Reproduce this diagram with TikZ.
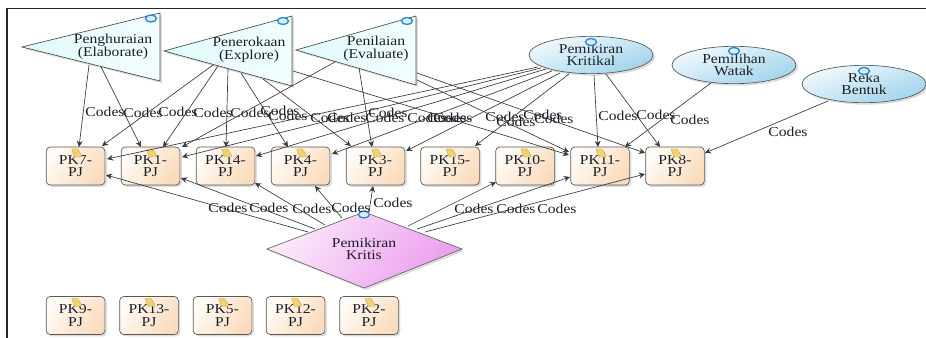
\documentclass[tikz,border=0pt]{standalone}
\usepackage{fontspec}
\setmainfont[FakeStretch=1.15]{Liberation Serif}
\usetikzlibrary{arrows.meta,calc,shapes.geometric,shadows}
\definecolor{lineC}{HTML}{3A3A3A}
\definecolor{txtC}{HTML}{1E1E28}
\definecolor{boxA}{HTML}{FFFBF6}
\definecolor{boxB}{HTML}{FADCBC}
\definecolor{triA}{HTML}{E0FAFB}
\definecolor{triB}{HTML}{F2FEFE}
\definecolor{ellA}{HTML}{F2FAFD}
\definecolor{ellB}{HTML}{9FD3EA}
\definecolor{diaA}{HTML}{FBEAFB}
\definecolor{diaB}{HTML}{EC9EEE}
\definecolor{noteC}{HTML}{F2D270}
\definecolor{noteD}{HTML}{C9A040}
\definecolor{ballC}{HTML}{2E86D0}
\definecolor{ballF}{HTML}{D5F0FF}
\newcommand{\lblfont}{\fontsize{10.2}{9.5}\selectfont}
\AtBeginDocument{\lineskiplimit=-20pt\normallineskiplimit=-20pt}
\tikzset{
  softshadow/.style={drop shadow={opacity=.28,shadow xshift=1.5pt,shadow yshift=-1.5pt}},
  labeltext/.style={font=\lblfont,text=txtC,align=center,inner sep=0pt},
  pkbox/.style={labeltext,rectangle,rounded corners=3pt,draw=black!65,line width=.5pt,
    minimum width=44pt,minimum height=28.5pt,softshadow,
    left color=boxA,right color=boxB,shading angle=55},
  ellnode/.style={labeltext,ellipse,draw=black!65,line width=.5pt,minimum width=93pt,minimum height=28pt,softshadow,
    top color=ellA,bottom color=ellB,shading angle=20},
  trishape/.style={draw=black!70,line width=.5pt,softshadow,left color=triA,right color=triB,shading angle=80},
  diashape/.style={draw=black!60,line width=.5pt,softshadow,left color=diaA,right color=diaB,shading angle=55},
  conn/.style={draw=lineC,line width=.5pt,-{Stealth[length=4.6pt,width=4.4pt]}},
  codes/.style={labeltext},
  ball/.style={draw=ballC,line width=1pt,fill=ballF},
  notemark/.style={fill=noteC,draw=noteD,line width=.25pt,rounded corners=.6pt},
  frameline/.style={draw=black!85,line width=1.1pt}
}
\newcommand{\conn}[5]{%
  \draw[conn] ($(#1)+(#2)$) -- ($(#3)+(#4)$);
  \node[codes] (#1-#3-lab) at (#5) {Codes};}
\newcommand{\pk}[3]{\node[pkbox] (#1) at (#2) {#3};}
\newcommand{\notemk}[1]{\draw[notemark] ($(#1)+(-4,-17)$) -- ($(#1)+(2,-17)$) -- ($(#1)+(6,-11)$) -- ($(#1)+(6,-9)$) -- ($(#1)+(-1,-9)$) -- cycle;}
\begin{document}
\begin{tikzpicture}[x=.75pt,y=-.75pt]
\useasboundingbox (0,0) rectangle (926,338);
\draw[frameline] (7,338) -- (7,8.5) -- (926,8.5);

% triangles
\path[trishape] (22,47) -- (160,13) -- (160,81) -- cycle;
\path[trishape] (164,51) -- (292,16) -- (292,86) -- cycle;
\path[trishape] (296,50) -- (416,16) -- (416,85) -- cycle;
\node[labeltext] (T1) at (113,47) {Penghuraian\\(Elaborate)};
\node[labeltext] (T2) at (249,50) {Penerokaan\\(Explore)};
\node[labeltext] (T3) at (376,49) {Penilaian\\(Evaluate)};

% ellipses
\node[ellnode] (K) at (591,55) {Pemikiran\\Kritikal};
\node[ellnode] (W) at (734,65) {Pemilihan\\Watak};
\node[ellnode] (R) at (864,84) {Reka\\Bentuk};

% diamond
\path[diashape] (267,249) -- (364,212) -- (462,249) -- (364,288) -- cycle;
\node[labeltext] (D) at (364,249) {Pemikiran\\Kritis};

% boxes
\pk{pk7}{75.5,166}{PK7-\\PJ}
\pk{pk1}{150.5,166}{PK1-\\PJ}
\pk{pk14}{225.5,166}{PK14-\\PJ}
\pk{pk4}{300.5,166}{PK4-\\PJ}
\pk{pk3}{375.5,166}{PK3-\\PJ}
\pk{pk15}{450,166}{PK15-\\PJ}
\pk{pk10}{525,166}{PK10-\\PJ}
\pk{pk11}{600,166}{PK11-\\PJ}
\pk{pk8}{675,166}{PK8-\\PJ}
\pk{pk9}{75.5,315.5}{PK9-\\PJ}
\pk{pk13}{149,315.5}{PK13-\\PJ}
\pk{pk5}{222.5,315.5}{PK5-\\PJ}
\pk{pk12}{295.5,315.5}{PK12-\\PJ}
\pk{pk2}{369,315.5}{PK2-\\PJ}

% icons
\foreach \n in {pk7,pk1,pk14,pk4,pk3,pk15,pk10,pk11,pk8,pk9,pk13,pk5,pk12,pk2}{\notemk{\n}}
\draw[ball] (151,18.5) ellipse (5.5 and 3.5);
\draw[ball] (283,21) ellipse (5.5 and 3.5);
\draw[ball] (407,21) ellipse (5.5 and 3.5);
\draw[ball] (591,42) ellipse (5.5 and 3.5);
\draw[ball] (734,51) ellipse (5.5 and 3.5);
\draw[ball] (864,71) ellipse (5.5 and 3.5);
\draw[ball] (364,214.5) ellipse (5.5 and 3.5);

% connectors
\conn{T1}{-24,18}{pk7}{3.5,-19}{105,112}
\conn{T1}{-12,20}{pk1}{-9.5,-19}{143,113}
\conn{T2}{-36,15}{pk7}{26.5,-20}{178,112}
\conn{T2}{-31,16}{pk1}{12.5,-19}{213,113}
\conn{T2}{-21,19}{pk14}{.5,-19}{250,113}
\conn{T2}{-8,23}{pk4}{-12.5,-19}{280,111}
\conn{T2}{14,29}{pk3}{-24.5,-20}{288,116}
\conn{T2}{44,21}{pk11}{-31,-11}{330,118}
\conn{T3}{-41,13}{pk1}{31.5,-19}{347,118}
\conn{T3}{-17,19}{pk3}{-3.5,-19}{388,113}
\conn{T3}{41,31}{pk11}{-31,-14}{385,118}
\conn{T3}{41,24}{pk8}{-30,-13}{427,118}
\conn{K}{-53,12}{pk7}{31.5,-7}{447,118}
\conn{K}{-50,13}{pk1}{31.5,-9}{453,118}
\conn{K}{-45,14}{pk14}{30.5,-10}{505,117}
\conn{K}{-39,16}{pk4}{31.5,-12}{516,122}
\conn{K}{-31,18}{pk3}{30.5,-15}{543,115}
\conn{K}{-22,19}{pk15}{25,-20}{554,119}
\conn{K}{3,20}{pk11}{-2,-19}{618,116}
\conn{K}{15,19}{pk8}{-15,-19}{656,115}
\conn{W}{-23,18}{pk11}{25,-19}{690,120}
\conn{R}{-36,17}{pk8}{30,-13}{788,132}
\conn{D}{-56,-17}{pk7}{30.5,9}{228,208}
\conn{D}{-49,-20}{pk1}{30.5,12}{269,208}
\conn{D}{-39,-24}{pk14}{29.5,17}{312,209}
\conn{D}{-22,-31}{pk4}{14.5,20}{351,208}
\conn{D}{5,-37}{pk3}{-2.5,20}{393,203}
\conn{D}{44,-23}{pk10}{-29,16}{474,209}
\conn{D}{53,-20}{pk11}{-30,11}{516,209}
\conn{D}{61,-17}{pk8}{-30,8}{557,209}
\end{tikzpicture}
\end{document}
